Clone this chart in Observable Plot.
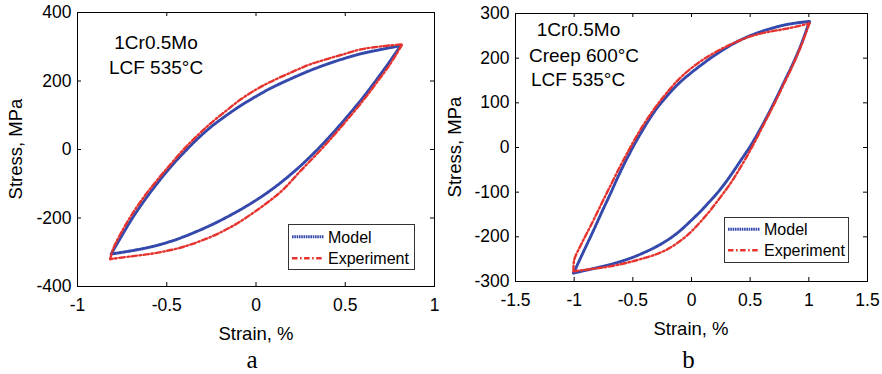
<!DOCTYPE html>
<html>
<head>
<meta charset="utf-8">
<script src="https://cdn.jsdelivr.net/npm/d3@7"></script>
<script src="https://cdn.jsdelivr.net/npm/@observablehq/plot@0.6"></script>
<style>
  html, body { margin: 0; padding: 0; background: #fff; }
  #root { position: relative; width: 882px; height: 374px; overflow: hidden; background: #fff; }
  .panel { position: absolute; top: 0; }
  #overlay { position: absolute; left: 0; top: 0; pointer-events: none; }
  #overlay text { font-family: "Liberation Sans", Arial, sans-serif; fill: #000; }
</style>
</head>
<body>
<div id="root">
  <div id="pa" class="panel" style="left:0px"></div>
  <div id="pb" class="panel" style="left:441px"></div>
</div>
<script>
// ---------- data ----------
const seriesNames = ["Model", "Experiment"];

const xTicksA = [-1, -0.5, 0, 0.5, 1];
const yTicksA = [-400, -200, 0, 200, 400];
const xTicksB = [-1.5, -1, -0.5, 0, 0.5, 1, 1.5];
const yTicksB = [-300, -200, -100, 0, 100, 200, 300];

// Panel a: 1Cr0.5Mo, LCF 535°C
const aModelUpStrain = [-0.811, -0.75, -0.686, -0.62, -0.555, -0.48, -0.406, -0.33, -0.257, -0.17, -0.089, 0.0, 0.079, 0.21, 0.30, 0.397, 0.49, 0.584, 0.70, 0.81];
const aModelUpStress = [-305, -250, -195, -145, -100, -52, -10, 30, 64, 98, 127, 155, 178, 210, 230, 249, 265, 279, 292, 303];
const aModelDnStrain = [0.81, 0.74, 0.677, 0.60, 0.509, 0.434, 0.35, 0.247, 0.15, 0.061, -0.03, -0.126, -0.257, -0.406, -0.5, -0.593, -0.70, -0.811];
const aModelDnStress = [303, 250, 205, 152, 95, 50, 3, -49, -92, -127, -158, -187, -222, -255, -272, -285, -296, -305];
const aExpUpStrain = [-0.817, -0.80, -0.761, -0.686, -0.62, -0.555, -0.48, -0.406, -0.33, -0.257, -0.17, -0.089, 0.0, 0.079, 0.21, 0.30, 0.397, 0.49, 0.584, 0.70, 0.817];
const aExpUpStress = [-320, -290, -248, -182, -133, -90, -44, 0, 40, 75, 112, 145, 175, 197, 228, 248, 264, 278, 292, 301, 307];
const aExpDnStrain = [0.817, 0.75, 0.677, 0.60, 0.5, 0.434, 0.35, 0.247, 0.15, 0.061, -0.03, -0.126, -0.257, -0.406, -0.5, -0.593, -0.70, -0.817];
const aExpDnStress = [305, 248, 196, 143, 80, 40, -8, -64, -118, -156, -190, -222, -256, -284, -296, -305, -312, -320];

// Panel b: 1Cr0.5Mo, Creep 600°C, LCF 535°C
const bModelUpStrain = [-1.005, -0.92, -0.834, -0.76, -0.692, -0.62, -0.549, -0.48, -0.407, -0.33, -0.265, -0.19, -0.122, -0.05, 0.02, 0.1, 0.162, 0.219, 0.29, 0.361, 0.47, 0.589, 0.70, 0.788, 0.90, 1.005];
const bModelUpStress = [-281, -233, -185, -142, -104, -62, -24, 10, 43, 75, 98, 121, 140, 157, 172, 188, 200, 210, 222, 233, 247, 259, 268, 274, 279, 282];
const bModelDnStrain = [1.005, 0.931, 0.86, 0.788, 0.72, 0.647, 0.575, 0.504, 0.43, 0.361, 0.28, 0.2, 0.13, 0.077, -0.009, -0.1, -0.208, -0.322, -0.436, -0.521, -0.60, -0.692, -0.85, -1.005];
const bModelDnStress = [282, 228, 185, 146, 109, 71, 36, 4, -25, -52, -82, -108, -128, -143, -165, -187, -208, -225, -239, -248, -255, -262, -272, -281];
const bExpUpStrain = [-1.005, -1.0, -0.95, -0.90, -0.834, -0.76, -0.692, -0.62, -0.549, -0.48, -0.407, -0.33, -0.265, -0.19, -0.122, -0.05, 0.02, 0.1, 0.162, 0.25, 0.361, 0.47, 0.589, 0.70, 0.788, 0.90, 1.005];
const bExpUpStress = [-277, -252, -222, -196, -162, -122, -86, -48, -13, 20, 52, 82, 105, 129, 149, 167, 182, 197, 207, 220, 234, 246, 255, 261, 265, 271, 278];
const bExpDnStrain = [1.005, 0.93, 0.86, 0.788, 0.71, 0.632, 0.55, 0.476, 0.40, 0.333, 0.25, 0.162, 0.105, 0.05, -0.009, -0.1, -0.2, -0.3, -0.436, -0.55, -0.692, -0.85, -1.005];
const bExpDnStress = [278, 225, 182, 143, 100, 60, 18, -18, -52, -80, -110, -140, -158, -174, -190, -210, -227, -239, -250, -258, -266, -272, -277];

// ---------- helpers ----------
const BLUE = "#3449ab";
const RED = "#e6332e";
const FONT = '"Liberation Sans", Arial, sans-serif';
const BLUE_DASH = "1.6,0.7";
const RED_DASH = "5.5,2.5,1.6,2.5";

function rows(xs, ys, series, branch) {
  return xs.map((x, i) => ({strain: x, stress: ys[i], series, branch: series + "-" + branch}));
}

function panel(cfg) {
  const {width, height, ml, mr, mt, mb, xDomain, yDomain, xTicks, yTicks, model, exp} = cfg;
  const W = width - ml - mr, H = height - mt - mb;
  const fmt = d => String(d);
  const tick = 4;
  return Plot.plot({
    width, height,
    marginLeft: ml, marginRight: mr, marginTop: mt, marginBottom: mb,
    style: {fontFamily: FONT, fontSize: "17.5px", color: "#000", background: "transparent", overflow: "visible"},
    x: {domain: xDomain},
    y: {domain: yDomain},
    marks: [
      Plot.line(model, {x: "strain", y: "stress", z: "branch", stroke: BLUE, strokeWidth: 2.9, strokeDasharray: BLUE_DASH, curve: "catmull-rom"}),
      Plot.line(exp, {x: "strain", y: "stress", z: "branch", stroke: RED, strokeWidth: 2.4, strokeDasharray: RED_DASH, curve: "catmull-rom"}),
      Plot.ruleX(xTicks, {x: d => d, insetTop: H - tick, stroke: "#000"}),
      Plot.ruleX(xTicks, {x: d => d, insetBottom: H - tick, stroke: "#000"}),
      Plot.ruleY(yTicks, {y: d => d, insetRight: W - tick, stroke: "#000"}),
      Plot.ruleY(yTicks, {y: d => d, insetLeft: W - tick, stroke: "#000"}),
      Plot.frame({stroke: "#000", strokeWidth: 1}),
      Plot.axisX(xTicks, {tickSize: 0, tickPadding: 12, tickFormat: fmt, label: null}),
      Plot.axisY(yTicks, {tickSize: 0, tickPadding: 6, tickFormat: fmt, label: null})
    ]
  });
}

const aModel = [...rows(aModelUpStrain, aModelUpStress, seriesNames[0], "up"), ...rows(aModelDnStrain, aModelDnStress, seriesNames[0], "down")];
const aExp = [...rows(aExpUpStrain, aExpUpStress, seriesNames[1], "up"), ...rows(aExpDnStrain, aExpDnStress, seriesNames[1], "down")];
const bModel = [...rows(bModelUpStrain, bModelUpStress, seriesNames[0], "up"), ...rows(bModelDnStrain, bModelDnStress, seriesNames[0], "down")];
const bExp = [...rows(bExpUpStrain, bExpUpStress, seriesNames[1], "up"), ...rows(bExpDnStrain, bExpDnStress, seriesNames[1], "down")];

document.getElementById("pa").appendChild(panel({
  width: 441, height: 345, ml: 77, mr: 7, mt: 12, mb: 59,
  xDomain: [-1, 1], yDomain: [-400, 400], xTicks: xTicksA, yTicks: yTicksA, model: aModel, exp: aExp
}));
document.getElementById("pb").appendChild(panel({
  width: 441, height: 345, ml: 74, mr: 15, mt: 13, mb: 64,
  xDomain: [-1.5, 1.5], yDomain: [-300, 300], xTicks: xTicksB, yTicks: yTicksB, model: bModel, exp: bExp
}));

// ---------- overlay text: labels, annotations, legends ----------
const NS = "http://www.w3.org/2000/svg";
const ov = document.createElementNS(NS, "svg");
ov.setAttribute("id", "overlay");
ov.setAttribute("width", 882);
ov.setAttribute("height", 374);
document.getElementById("root").appendChild(ov);

function txt(s, x, y, opts = {}) {
  const t = document.createElementNS(NS, "text");
  t.textContent = s;
  t.setAttribute("x", 0);
  t.setAttribute("y", 0);
  t.setAttribute("text-anchor", opts.anchor || "middle");
  t.setAttribute("font-size", opts.size || 18.5);
  if (opts.family) t.setAttribute("style", "font-family:" + opts.family);
  t.setAttribute("transform", `translate(${x},${y})` + (opts.rotate ? ` rotate(${opts.rotate})` : ""));
  ov.appendChild(t);
}
function el(name, attrs) {
  const e = document.createElementNS(NS, name);
  for (const k in attrs) e.setAttribute(k, attrs[k]);
  ov.appendChild(e);
}

// axis titles
txt("Strain, %", 256, 340);
txt("Strain, %", 691, 335);
txt("Stress, MPa", 21.5, 149, {rotate: -90});
txt("Stress, MPa", 461, 147, {rotate: -90});

// panel letters
txt("a", 252, 368, {size: 25, family: '"Liberation Serif", "Times New Roman", serif'});
txt("b", 688.5, 368, {size: 25, family: '"Liberation Serif", "Times New Roman", serif'});

// annotations
txt("1Cr0.5Mo", 156, 49.3, {size: 19});
txt("LCF 535°C", 156, 74, {size: 19});
txt("1Cr0.5Mo", 578.5, 36, {size: 19});
txt("Creep 600°C", 584, 61.7, {size: 19});
txt("LCF 535°C", 578, 86, {size: 19});

// legends
function legend(x0, y0, w, h, sx0, sx1, tx, r1, r2, b1, b2) {
  el("rect", {x: x0 + 0.5, y: y0 + 0.5, width: w, height: h, fill: "#fff", stroke: "#333", "stroke-width": 1});
  el("line", {x1: sx0, x2: sx1, y1: r1, y2: r1, stroke: BLUE, "stroke-width": 2.9, "stroke-dasharray": BLUE_DASH});
  el("line", {x1: sx0, x2: sx1, y1: r2, y2: r2, stroke: RED, "stroke-width": 2.4, "stroke-dasharray": RED_DASH});
  txt(seriesNames[0], tx, b1, {anchor: "start", size: 16});
  txt(seriesNames[1], tx, b2, {anchor: "start", size: 16});
}
legend(288, 224, 126, 45, 292, 324, 328, 236.7, 258.3, 242.7, 264);
legend(724, 217, 124, 45, 728, 760, 764, 229.3, 250.3, 235, 256);
</script>
</body>
</html>
